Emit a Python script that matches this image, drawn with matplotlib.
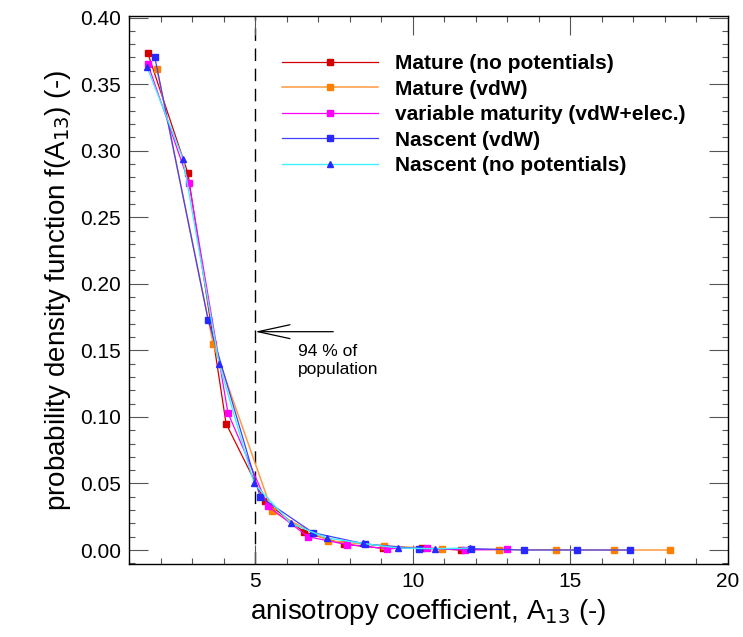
import matplotlib
matplotlib.use("Agg")
import matplotlib.pyplot as plt
from matplotlib.ticker import MultipleLocator, FormatStrFormatter

plt.rcParams['font.family'] = ['Liberation Sans', 'DejaVu Sans']

# Data
mature_np_x = [1.60, 2.87, 4.08, 5.30, 6.56, 7.81, 9.07, 10.30, 11.52]
mature_np_y = [0.373, 0.283, 0.095, 0.037, 0.0135, 0.0045, 0.0012, 0.0015, 0.0]

mature_vdw_x = [1.89, 3.67, 5.54, 7.32, 9.10, 10.94, 12.75, 14.56, 16.38, 18.16]
mature_vdw_y = [0.361, 0.155, 0.029, 0.007, 0.003, 0.001, 0.0002, 0.0002, 0.0, 0.0]

variable_x = [1.60, 2.90, 4.14, 5.41, 6.68, 7.93, 9.20, 10.45, 11.66, 13.00]
variable_y = [0.365, 0.276, 0.103, 0.033, 0.010, 0.004, 0.001, 0.0015, 0.0, 0.0005]

nascent_vdw_x = [1.82, 3.51, 5.16, 6.84, 8.50, 10.20, 11.85, 13.53, 15.23, 16.88]
nascent_vdw_y = [0.370, 0.173, 0.040, 0.013, 0.0045, 0.001, 0.001, 0.0, 0.0, 0.0]

nascent_np_x = [1.57, 2.71, 3.86, 4.97, 6.14, 7.29, 8.41, 9.54, 10.70, 11.83]
nascent_np_y = [0.363, 0.294, 0.140, 0.050, 0.020, 0.009, 0.005, 0.0015, 0.001, 0.0015]

labels = ["Mature (no potentials)", "Mature (vdW)", "variable maturity (vdW+elec.)",
          "Nascent (vdW)", "Nascent (no potentials)"]

fig = plt.figure(figsize=(7.43, 6.37), dpi=100)
ax = fig.add_axes([0.1736, 0.1146, 0.806, 0.860])

ax.axvline(5, color='black', lw=1.0, ls=(0, (9, 5.5)), zorder=1)

ms = 5
ax.plot(mature_np_x, mature_np_y, '-', color='#d40000', lw=0.9, marker='s', ms=ms,
        mfc='#d40000', mec='#d40000', label=labels[0], zorder=3)
ax.plot(mature_vdw_x, mature_vdw_y, '-', color='#ff9a40', lw=1.1, marker='s', ms=ms,
        mfc='#ff7f00', mec='#ff7f00', label=labels[1], zorder=3)
ax.plot(variable_x, variable_y, '-', color='#ff00ff', lw=0.9, marker='s', ms=ms,
        mfc='#ff00ff', mec='#ff00ff', label=labels[2], zorder=3)
ax.plot(nascent_vdw_x, nascent_vdw_y, '-', color='#4040ff', lw=0.9, marker='s', ms=ms,
        mfc='#2828ff', mec='#2828ff', label=labels[3], zorder=3)
ax.plot(nascent_np_x, nascent_np_y, '-', color='#40f0ff', lw=1.0, marker='^', ms=ms,
        mfc='#2828ff', mec='#2828ff', label=labels[4], zorder=3)

ax.set_xlim(1, 20)
ax.set_ylim(-0.0105, 0.401)
ax.xaxis.set_major_locator(MultipleLocator(5))
ax.xaxis.set_minor_locator(MultipleLocator(1))
ax.yaxis.set_major_locator(MultipleLocator(0.05))
ax.yaxis.set_minor_locator(MultipleLocator(0.01))
ax.yaxis.set_major_formatter(FormatStrFormatter('%.2f'))

ax.tick_params(which='both', direction='in', top=True, right=True, color='#555555', width=0.8)
ax.tick_params(which='major', length=14, labelsize=15, pad=6)
ax.tick_params(which='minor', length=4.5)
for s in ax.spines.values():
    s.set_linewidth(1.0)

ax.set_xlabel("anisotropy coefficient, A$_{13}$ (-)", fontsize=20, labelpad=4)
ax.set_ylabel("probability density function f(A$_{13}$) (-)", fontsize=20, labelpad=5)

ax.annotate("", xy=(5, 0.164), xytext=(7.48, 0.164),
            arrowprops=dict(arrowstyle='->, head_length=1.15, head_width=0.25',
                            color='black', lw=0.9, shrinkA=0, shrinkB=0,
                            mutation_scale=20))
ax.text(6.37, 0.155, "94 % of\npopulation", fontsize=12.5, va='top', ha='left',
        linespacing=1.3)

leg = ax.legend(loc='upper left', bbox_to_anchor=(0.2554, 0.9305), frameon=False,
                prop={'weight': 'bold', 'size': 15}, handlelength=4.6,
                markerscale=0.8, labelspacing=0.31, handletextpad=0.82,
                borderpad=0, borderaxespad=0)

fig.savefig("out.png", dpi=100)
